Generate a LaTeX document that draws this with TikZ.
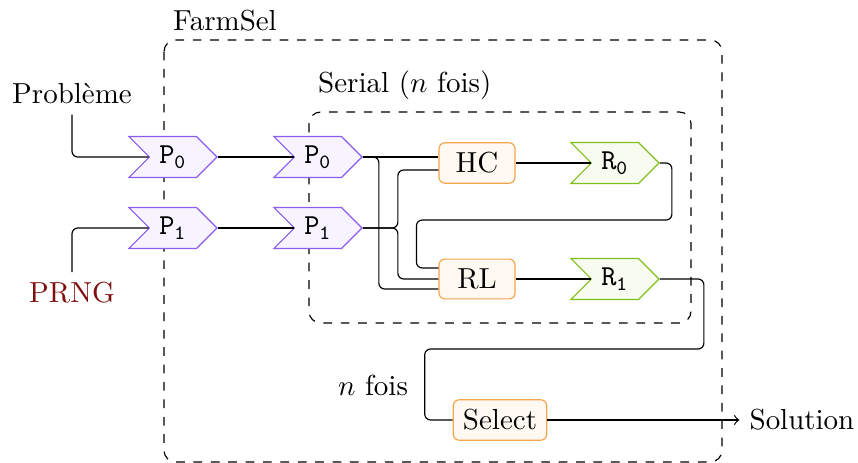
\documentclass[tikz,border=0pt]{standalone}
\usetikzlibrary{shapes.symbols,calc}
\definecolor{vio}{RGB}{138,92,240}
\definecolor{viofill}{RGB}{247,244,255}
\definecolor{ora}{RGB}{245,165,75}
\definecolor{orafill}{RGB}{255,249,242}
\definecolor{gre}{RGB}{128,192,28}
\definecolor{grefill}{RGB}{247,251,240}
\definecolor{prngcol}{RGB}{128,16,16}
\tikzset{
  sigbox/.style={shape=signal, signal from=west, signal to=east, signal pointer angle=90,
    minimum width=30.4pt, minimum height=14.1pt, inner sep=0pt},
  pbox/.style={sigbox, draw=vio, fill=viofill},
  rbox/.style={sigbox, draw=gre, fill=grefill},
  opbox/.style={draw=ora, fill=orafill, rounded corners=2pt, minimum height=13.6pt},
  conn/.style={rounded corners=2pt},
  frame/.style={dashed, rounded corners=4pt},
}
\begin{document}
\begin{tikzpicture}[x=0.345pt,y=-0.345pt]
\useasboundingbox (0,0) rectangle (858,463);
% containers
\draw[frame] (164,40) rectangle (722,462);
\node[anchor=west] (farm) at (163,21) {FarmSel};
\draw[frame] (309,112) rectangle (691,323);
\node[anchor=west] (serial) at (308,85) {Serial ($n$ fois)};
% inputs
\node (prob) at (72,94) {Problème};
\node[text=prngcol] (prng) at (72,293) {PRNG};
% nodes
\node[pbox] (p0a) at (173,157) {$\mathtt{P_0}$};
\node[pbox] (p1a) at (173,228) {$\mathtt{P_1}$};
\node[pbox] (p0b) at (318,157) {$\mathtt{P_0}$};
\node[pbox] (p1b) at (318,228) {$\mathtt{P_1}$};
\node[opbox, minimum width=26.2pt] (hc) at (477,163) {HC};
\node[opbox, minimum width=26.2pt] (rl) at (477,279) {RL};
\node[rbox] (r0) at (615,163) {$\mathtt{R_0}$};
\node[rbox] (r1) at (615,279) {$\mathtt{R_1}$};
\node[opbox] (sel) at (500,420) {Select};
\node (sol) at (802,420) {Solution};
\node (nfois) at (373,385) {$n$ fois};
% connectors
\draw[conn] (prob.south) |- (p0a.west);
\draw[conn] (prng.north) |- (p1a.west);
\draw (p0a.east) -- (p0b.west);
\draw (p1a.east) -- (p1b.west);
\draw (p0b.east) -- (hc.west |- p0b.east);
\draw[conn] (p0b.east) -- ++(16,0) |- ([yshift=-3.45pt]rl.west);
\draw[conn] (p1b.east) -- ++(35,0) |- ([yshift=-2.4pt]hc.west);
\draw[conn] (p1b.east) -- ++(35,0) |- (rl.west);
\draw (hc.east) -- (r0.west);
\draw (rl.east) -- (r1.west);
\draw[conn] (r0.east) -- ++(12,0) |- ($(rl.west)+(-22,-59)$) |- ([yshift=3.8pt]rl.west);
\draw[conn] (r1.east) -- ++(44,0) |- ($(sel.west)+(-28,-71)$) |- (sel.west);
\draw[->] (sel.east) -- (sol.west);
\end{tikzpicture}
\end{document}
